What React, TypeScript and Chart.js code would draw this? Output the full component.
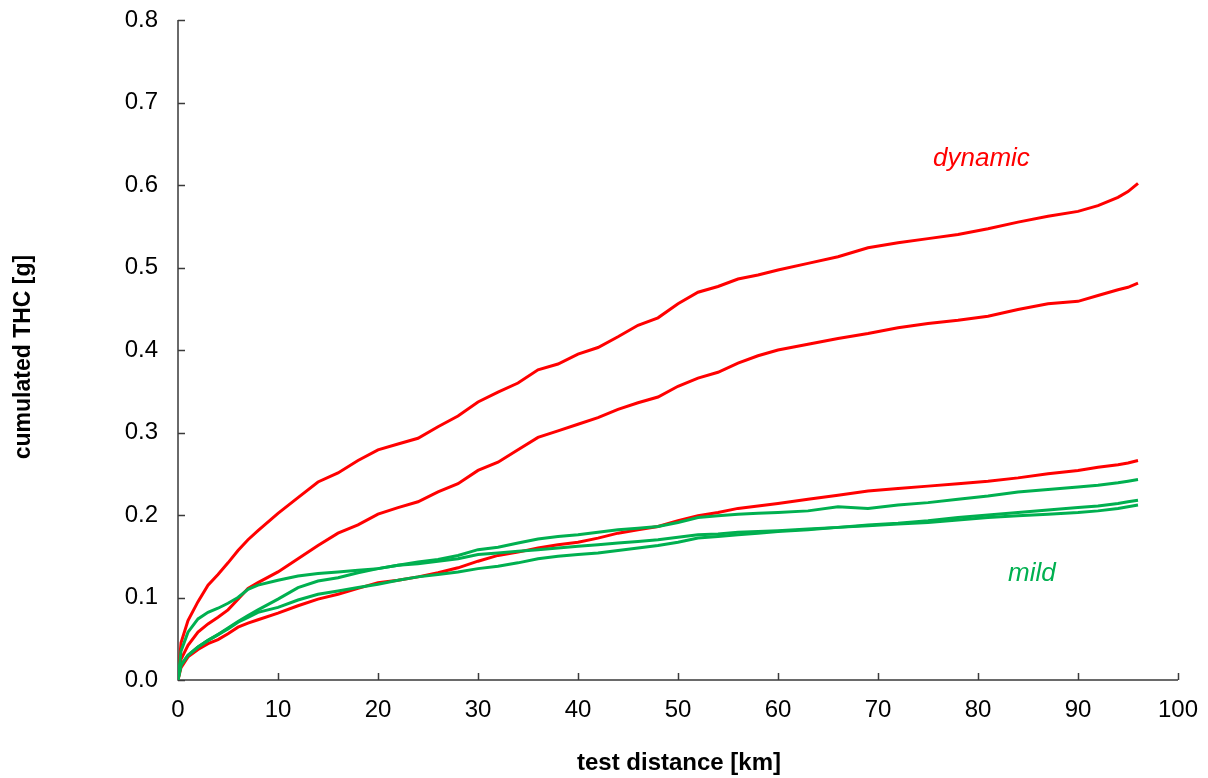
import React, { useEffect, useRef } from 'react';
import { Chart, registerables } from 'chart.js';

Chart.register(...registerables);

// test distance [km]
const km = [0, 0.3, 1, 2, 3, 4, 5, 6, 7, 8, 10, 12, 14, 16, 18, 20, 22, 24, 26, 28, 30, 32, 34, 36, 38, 40, 42, 44, 46, 48, 50, 52, 54, 56, 58, 60, 63, 66, 69, 72, 75, 78, 81, 84, 87, 90, 92, 94, 95, 96];

// dynamic runs (cumulated THC [g])
const dynamic1 = [0, 0.045, 0.072, 0.095, 0.115, 0.128, 0.142, 0.157, 0.170, 0.181, 0.202, 0.221, 0.240, 0.251, 0.266, 0.279, 0.286, 0.293, 0.307, 0.320, 0.337, 0.349, 0.360, 0.376, 0.383, 0.395, 0.403, 0.416, 0.430, 0.439, 0.456, 0.470, 0.477, 0.486, 0.491, 0.497, 0.505, 0.513, 0.524, 0.530, 0.535, 0.540, 0.547, 0.555, 0.562, 0.568, 0.575, 0.585, 0.592, 0.602];
const dynamic2 = [0, 0.025, 0.042, 0.058, 0.068, 0.076, 0.085, 0.098, 0.111, 0.118, 0.131, 0.147, 0.163, 0.178, 0.188, 0.201, 0.209, 0.216, 0.228, 0.238, 0.254, 0.264, 0.279, 0.294, 0.302, 0.310, 0.318, 0.328, 0.336, 0.343, 0.356, 0.366, 0.373, 0.384, 0.393, 0.400, 0.407, 0.414, 0.420, 0.427, 0.432, 0.436, 0.441, 0.449, 0.456, 0.459, 0.466, 0.473, 0.476, 0.481];
const dynamic3 = [0, 0.015, 0.028, 0.037, 0.044, 0.049, 0.056, 0.064, 0.069, 0.073, 0.081, 0.090, 0.098, 0.104, 0.111, 0.118, 0.121, 0.125, 0.130, 0.136, 0.144, 0.151, 0.155, 0.160, 0.164, 0.167, 0.172, 0.178, 0.182, 0.186, 0.193, 0.199, 0.203, 0.208, 0.211, 0.214, 0.219, 0.224, 0.229, 0.232, 0.235, 0.238, 0.241, 0.245, 0.250, 0.254, 0.258, 0.261, 0.263, 0.266];

// mild runs (cumulated THC [g])
const mild1 = [0, 0.035, 0.058, 0.074, 0.082, 0.087, 0.093, 0.100, 0.110, 0.115, 0.121, 0.126, 0.129, 0.131, 0.133, 0.135, 0.139, 0.143, 0.146, 0.151, 0.158, 0.161, 0.166, 0.171, 0.174, 0.176, 0.179, 0.182, 0.184, 0.186, 0.191, 0.197, 0.199, 0.201, 0.202, 0.203, 0.205, 0.210, 0.208, 0.212, 0.215, 0.219, 0.223, 0.228, 0.231, 0.234, 0.236, 0.239, 0.241, 0.243];
const mild2 = [0, 0.018, 0.030, 0.040, 0.048, 0.055, 0.063, 0.071, 0.078, 0.085, 0.098, 0.112, 0.120, 0.124, 0.130, 0.135, 0.139, 0.141, 0.144, 0.147, 0.152, 0.154, 0.156, 0.158, 0.160, 0.162, 0.164, 0.166, 0.168, 0.170, 0.173, 0.176, 0.177, 0.179, 0.180, 0.181, 0.183, 0.185, 0.188, 0.190, 0.193, 0.197, 0.200, 0.203, 0.206, 0.209, 0.211, 0.214, 0.216, 0.218];
const mild3 = [0, 0.018, 0.030, 0.040, 0.048, 0.055, 0.062, 0.070, 0.076, 0.082, 0.088, 0.097, 0.104, 0.108, 0.112, 0.116, 0.121, 0.125, 0.128, 0.131, 0.135, 0.138, 0.142, 0.147, 0.150, 0.152, 0.154, 0.157, 0.160, 0.163, 0.167, 0.172, 0.174, 0.176, 0.178, 0.180, 0.182, 0.185, 0.187, 0.189, 0.191, 0.194, 0.197, 0.199, 0.201, 0.203, 0.205, 0.208, 0.210, 0.212];

const xTitle = 'test distance [km]';
const yTitle = 'cumulated THC [g]';
const labelDynamic = 'dynamic';
const labelMild = 'mild';
// annotation anchors in data units (km, g)
const labelDynamicAt = [75.5, 0.623];
const labelMildAt = [83.0, 0.12];

const RED = '#FF0000';
const GREEN = '#00B050';
const AXIS = '#3a3a3a';
const FONT = '"Liberation Sans", Arial, Helvetica, sans-serif';

const toPoints = (ys: number[]) => ys.map((y, i) => ({ x: km[i], y }));

const overlay = {
  id: 'overlay',
  beforeDatasetsDraw(chart: any) {
    const { ctx, chartArea, scales } = chart;
    const { left, right, top, bottom } = chartArea;
    ctx.save();
    ctx.strokeStyle = AXIS;
    ctx.lineWidth = 1.5;
    ctx.beginPath();
    ctx.moveTo(left, top);
    ctx.lineTo(left, bottom);
    ctx.lineTo(right, bottom);
    // inner tick marks
    const tl = 7;
    scales.y.ticks.forEach((t: any) => {
      const py = Math.round(scales.y.getPixelForValue(t.value)) + 0.5;
      ctx.moveTo(left, py);
      ctx.lineTo(left + tl, py);
    });
    scales.x.ticks.forEach((t: any) => {
      const px = Math.round(scales.x.getPixelForValue(t.value)) + 0.5;
      ctx.moveTo(px, bottom);
      ctx.lineTo(px, bottom - tl);
    });
    ctx.stroke();
    ctx.restore();
  },
  afterDraw(chart: any) {
    const { ctx, chartArea, scales } = chart;
    ctx.save();
    ctx.fillStyle = '#000';
    ctx.font = `bold 24px ${FONT}`;
    ctx.textAlign = 'center';
    ctx.textBaseline = 'alphabetic';
    ctx.fillText(xTitle, (chartArea.left + chartArea.right) / 2 + 1, 770);
    ctx.save();
    ctx.font = `bold 23px ${FONT}`;
    ctx.translate(30, (chartArea.top + chartArea.bottom) / 2 + 7);
    ctx.rotate(-Math.PI / 2);
    ctx.fillText(yTitle, 0, 0);
    ctx.restore();

    ctx.font = `italic 26px ${FONT}`;
    ctx.textAlign = 'left';
    ctx.fillStyle = RED;
    ctx.fillText(labelDynamic, scales.x.getPixelForValue(labelDynamicAt[0]), scales.y.getPixelForValue(labelDynamicAt[1]));
    ctx.fillStyle = GREEN;
    ctx.fillText(labelMild, scales.x.getPixelForValue(labelMildAt[0]), scales.y.getPixelForValue(labelMildAt[1]));
    ctx.restore();
  },
};

const zeroPad = (s: any) => {
  s.paddingTop = 0;
  s.paddingBottom = 0;
  s.paddingLeft = 0;
  s.paddingRight = 0;
};

export default function App() {
  const ref = useRef<HTMLCanvasElement>(null);
  useEffect(() => {
    if (!ref.current) return;
    const mk = (label: string, data: number[], color: string) => ({
      label,
      data: toPoints(data),
      borderColor: color,
      backgroundColor: color,
      borderWidth: 3,
      pointRadius: 0,
      tension: 0,
      fill: false,
    });
    const chart = new Chart(ref.current, {
      type: 'line',
      data: {
        datasets: [
          mk('mild 1', mild1, GREEN),
          mk('mild 2', mild2, GREEN),
          mk('mild 3', mild3, GREEN),
          mk('dynamic 1', dynamic1, RED),
          mk('dynamic 2', dynamic2, RED),
          mk('dynamic 3', dynamic3, RED),
        ],
      },
      options: {
        animation: false,
        responsive: false,
        devicePixelRatio: 1,
        layout: { padding: { top: 20, right: 30, left: 0, bottom: 0 } },
        plugins: { legend: { display: false }, tooltip: { enabled: false }, title: { display: false } },
        scales: {
          x: {
            type: 'linear',
            min: 0,
            max: 100,
            grid: { display: false, drawTicks: false },
            border: { display: false },
            ticks: {
              stepSize: 10,
              padding: 16,
              color: '#000',
              font: { family: FONT, size: 24 },
              callback: (v: any) => String(v),
            },
            afterFit: (s: any) => { s.height = 98; zeroPad(s); },
          },
          y: {
            type: 'linear',
            min: 0,
            max: 0.8,
            grid: { display: false, drawTicks: false },
            border: { display: false },
            ticks: {
              stepSize: 0.1,
              padding: 20,
              color: '#000',
              font: { family: FONT, size: 24 },
              callback: (v: any) => Number(v).toFixed(1),
            },
            afterFit: (s: any) => { s.width = 178; zeroPad(s); },
          },
        },
      },
      plugins: [overlay],
    });
    return () => chart.destroy();
  }, []);
  return (
    <div style={{ position: 'fixed', left: 0, top: 0, width: 1208, height: 778, background: '#fff' }}>
      <canvas ref={ref} width={1208} height={778} style={{ display: 'block' }} />
    </div>
  );
}
